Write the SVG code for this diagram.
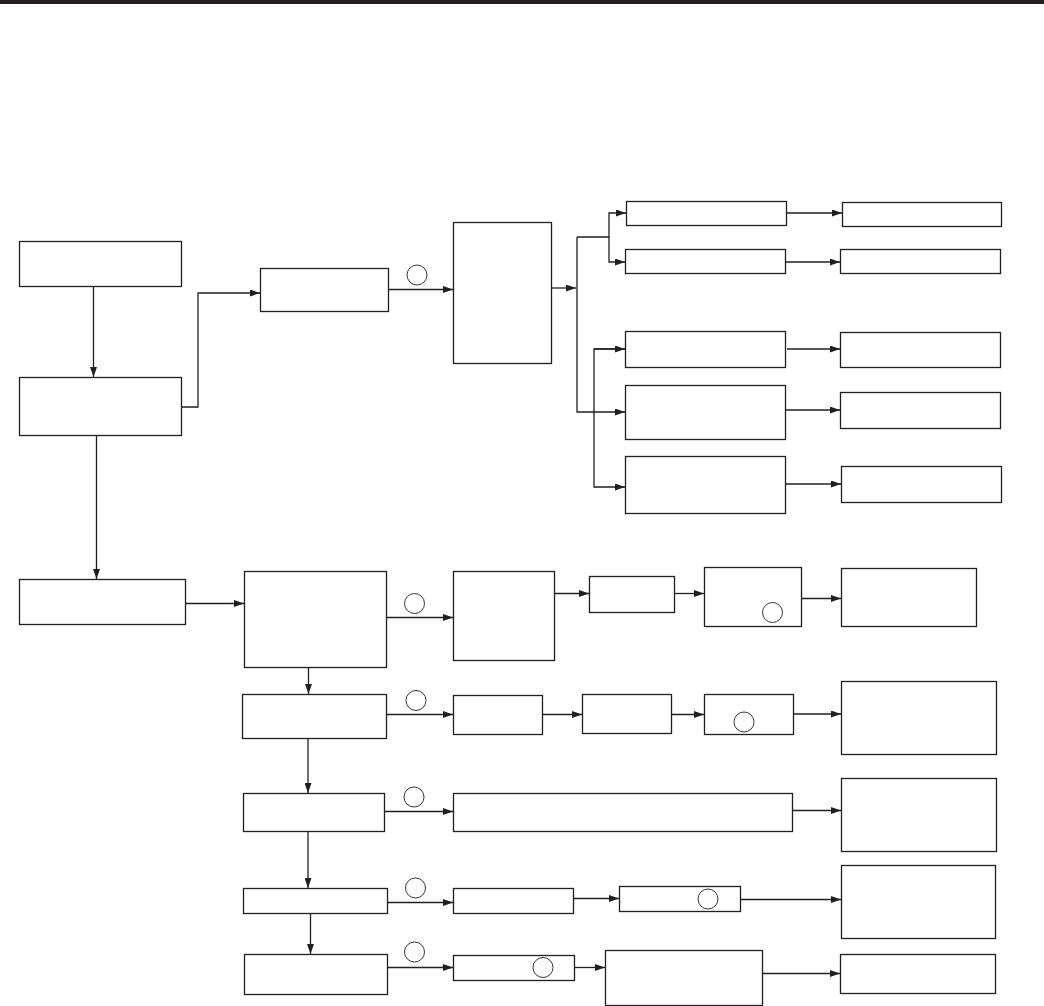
<svg xmlns="http://www.w3.org/2000/svg" width="1044" height="1006" viewBox="0 0 1044 1006">
<style>
.n{fill:#fff;stroke:#231f20;stroke-width:1.3}
.c{fill:none;stroke:#231f20;stroke-width:1.3;marker-end:url(#a)}
.o{fill:none;stroke:#231f20;stroke-width:0.9}
</style>
<defs>
<marker id="a" markerUnits="userSpaceOnUse" markerWidth="10" markerHeight="7" refX="10" refY="3.5" orient="auto">
<path d="M0,0 L10,3.5 L0,7 z" fill="#231f20"/>
</marker>
</defs>
<rect x="0" y="0" width="1044" height="4" fill="#231f20"/>
<g id="connectors">
<path class="c" d="M93.5,286 V377"/>
<path class="c" d="M181.5,407 H198 V293 H260"/>
<path class="c" d="M388.5,289.5 H453"/>
<path class="c" d="M551.5,288 H576"/>
<path class="c" d="M577,237 V412 H625"/>
<path class="c" d="M577,237 H609 V213 H626"/>
<path class="c" d="M609,237 V262 H625"/>
<path class="c" d="M625,349 H594 V487 H625"/>
<path class="c" d="M594,349 H625"/>
<path class="c" d="M786,213 H842"/>
<path class="c" d="M785,262 H840"/>
<path class="c" d="M787,349 H840"/>
<path class="c" d="M785,410 H840"/>
<path class="c" d="M785,484 H841"/>
<path class="c" d="M96.5,435 V579"/>
<path class="c" d="M185.5,603.5 H244"/>
<path class="c" d="M385,617.5 H453"/>
<path class="c" d="M554.5,593.5 H589"/>
<path class="c" d="M674.5,593.5 H704"/>
<path class="c" d="M801.5,598.5 H841"/>
<path class="c" d="M308.5,667 V694"/>
<path class="c" d="M386.5,714.5 H453"/>
<path class="c" d="M542.5,714.5 H582"/>
<path class="c" d="M671.5,714.5 H704"/>
<path class="c" d="M793.5,714 H841"/>
<path class="c" d="M308,738 V793"/>
<path class="c" d="M384.5,811.5 H453"/>
<path class="c" d="M792.5,810.5 H841"/>
<path class="c" d="M308,831 V888"/>
<path class="c" d="M387,902.5 H453"/>
<path class="c" d="M573.5,898.5 H619"/>
<path class="c" d="M740.5,899.5 H841"/>
<path class="c" d="M310.5,913 V954"/>
<path class="c" d="M387,967.5 H453"/>
<path class="c" d="M574.5,967.5 H605"/>
<path class="c" d="M762.5,973.5 H840"/>
</g>
<g id="nA"><rect class="n" x="19.5" y="241.5" width="162" height="45"/></g>
<g id="nB"><rect class="n" x="19.5" y="377.5" width="162" height="58"/></g>
<g id="nC"><rect class="n" x="260.5" y="268.5" width="128" height="43"/><circle class="o" cx="417" cy="275" r="10"/></g>
<g id="nD"><rect class="n" x="453.5" y="222.5" width="98" height="141"/></g>
<g id="nE1"><rect class="n" x="626.5" y="201.5" width="160" height="24"/></g>
<g id="nE2"><rect class="n" x="625.5" y="249.5" width="160" height="24"/></g>
<g id="nE3"><rect class="n" x="625.5" y="331.5" width="160" height="36"/></g>
<g id="nE4"><rect class="n" x="625.5" y="385.5" width="160" height="54"/></g>
<g id="nE5"><rect class="n" x="625.5" y="456.5" width="160" height="57"/></g>
<g id="nF1"><rect class="n" x="842.5" y="202.5" width="159" height="24"/></g>
<g id="nF2"><rect class="n" x="840.5" y="249.5" width="160" height="24"/></g>
<g id="nF3"><rect class="n" x="840.5" y="332.5" width="160" height="35"/></g>
<g id="nF4"><rect class="n" x="840.5" y="392.5" width="160" height="36"/></g>
<g id="nF5"><rect class="n" x="841.5" y="466.5" width="160" height="36"/></g>
<g id="nG"><rect class="n" x="19.5" y="579.5" width="166" height="45"/></g>
<g id="nH"><rect class="n" x="244.5" y="571.5" width="142" height="96"/><circle class="o" cx="414.5" cy="603.5" r="10"/></g>
<g id="nI"><rect class="n" x="453.5" y="571.5" width="101" height="89"/></g>
<g id="nL"><rect class="n" x="589.5" y="576.5" width="85" height="36"/></g>
<g id="nM"><rect class="n" x="704.5" y="567.5" width="97" height="59"/><circle class="o" cx="772.5" cy="612.5" r="10"/></g>
<g id="nN"><rect class="n" x="841.5" y="568.5" width="135" height="58"/></g>
<g id="nJ"><rect class="n" x="242.5" y="694.5" width="144" height="44"/><circle class="o" cx="416" cy="700.5" r="10"/></g>
<g id="nK"><rect class="n" x="453.5" y="695.5" width="89" height="39"/></g>
<g id="nO"><rect class="n" x="582.5" y="694.5" width="89" height="39"/></g>
<g id="nP"><rect class="n" x="704.5" y="694.5" width="89" height="40"/><circle class="o" cx="744" cy="722" r="10"/></g>
<g id="nQ"><rect class="n" x="841.5" y="681.5" width="155" height="73"/></g>
<g id="nR"><rect class="n" x="243.5" y="793.5" width="141" height="38"/><circle class="o" cx="414" cy="797" r="10"/></g>
<g id="nS"><rect class="n" x="453.5" y="793.5" width="339" height="38"/></g>
<g id="nT"><rect class="n" x="841.5" y="778.5" width="155" height="73"/></g>
<g id="nU"><rect class="n" x="243.5" y="888.5" width="144" height="25"/><circle class="o" cx="415.5" cy="888" r="10"/></g>
<g id="nV"><rect class="n" x="453.5" y="888.5" width="120" height="25"/></g>
<g id="nW"><rect class="n" x="619.5" y="886.5" width="121" height="25"/><circle class="o" cx="708" cy="899" r="10"/></g>
<g id="nX"><rect class="n" x="841.5" y="865.5" width="154" height="73"/></g>
<g id="nY"><rect class="n" x="244.5" y="954.5" width="143" height="40"/><circle class="o" cx="414.5" cy="952" r="10"/></g>
<g id="nZ"><rect class="n" x="453.5" y="955.5" width="121" height="25"/><circle class="o" cx="543" cy="967.5" r="10"/></g>
<g id="nAA"><rect class="n" x="605.5" y="950.5" width="157" height="55"/></g>
<g id="nAB"><rect class="n" x="840.5" y="954.5" width="155" height="39"/></g>
</svg>
